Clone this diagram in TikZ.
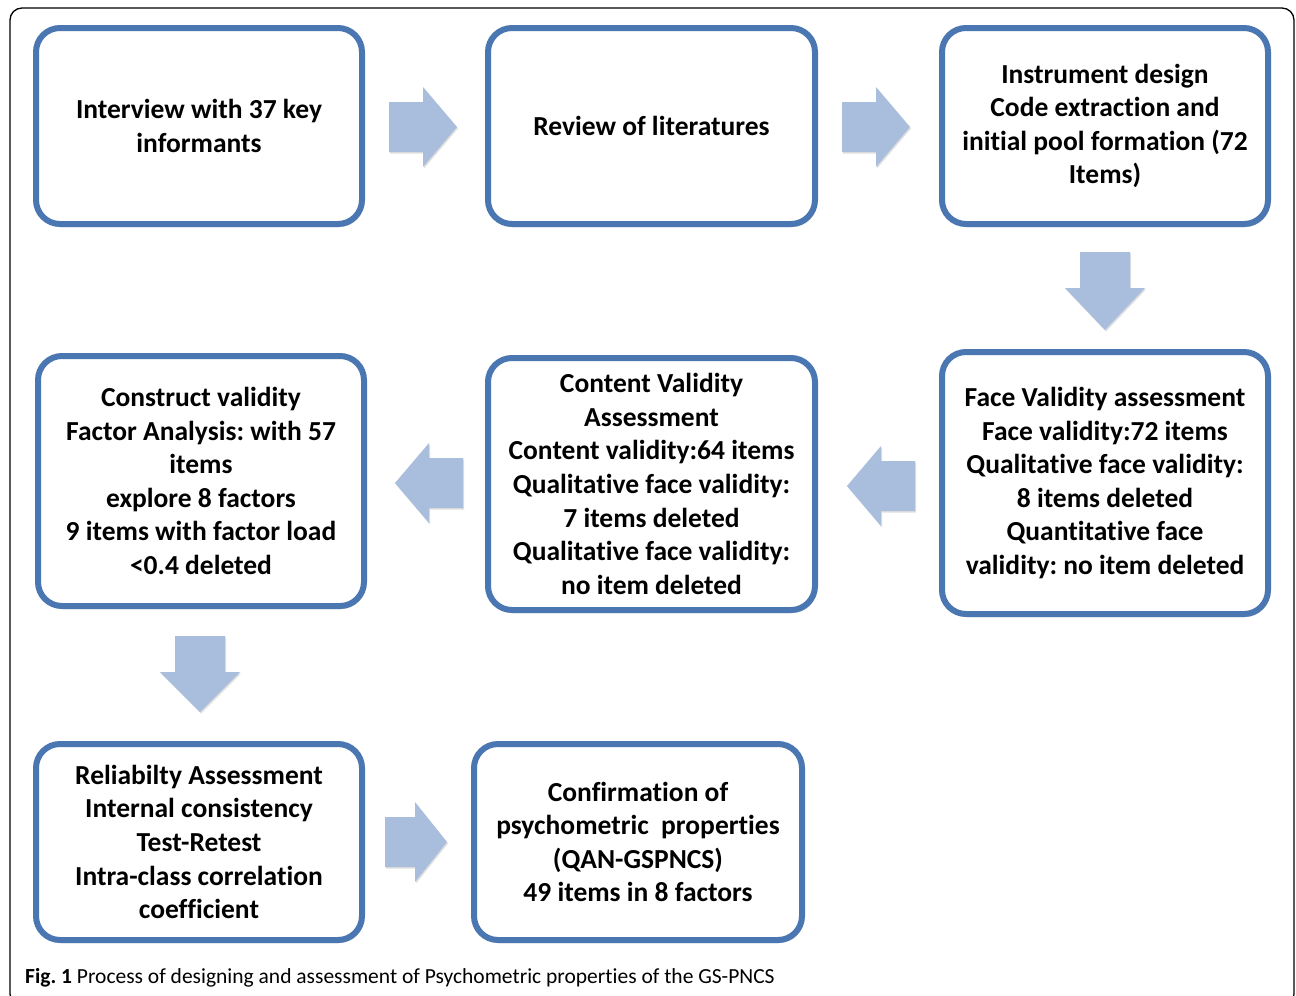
\documentclass[tikz,border=0pt]{standalone}
\usepackage{fontspec}
\setmainfont[Ligatures={NoCommon}]{Carlito}
\usetikzlibrary{shadows}
\definecolor{boxblue}{HTML}{4A77B2}
\definecolor{arrowc}{HTML}{A9BDDD}
\frenchspacing
\tikzset{
  stepbox/.style={draw=boxblue, line width=6pt, rounded corners=24pt, fill=white,
    align=center, inner sep=0pt, font=\fontsize{27.5}{33.6}\selectfont\bfseries,
    drop shadow={shadow xshift=1.5pt, shadow yshift=-3pt, opacity=0.35, fill=black!60}},
}
\newcommand\myarrow[5]{% x y angle length head
  \begin{scope}[shift={(#1,#2)}, rotate=#3]
    \fill[arrowc, drop shadow={shadow xshift=1pt, shadow yshift=-1.5pt, opacity=0.25}]
      (-#4/2,-25) -- (#4/2-#5,-25) -- (#4/2-#5,-40) -- (#4/2,0) -- (#4/2-#5,40) -- (#4/2-#5,25) -- (-#4/2,25) -- cycle;
  \end{scope}}
\begin{document}
\begin{tikzpicture}[x=1pt,y=-1pt]
\useasboundingbox (0,0) rectangle (1296,996);
\fill[white] (0,0) rectangle (1296,996);
\draw[line width=1.3pt, rounded corners=12pt] (10,8) rectangle (1294,1006);

\node[stepbox, minimum width=326, minimum height=196] (b1) at (199,126) {Interview with 37 key\\informants};
\node[stepbox, minimum width=327, minimum height=196] (b2) at (651.5,126) {Review of literatures};
\node[stepbox, minimum width=326, minimum height=196] (b3) at (1105,126) {Instrument design\\Code extraction and\\initial pool formation (72\\Items)};
\node[stepbox, minimum width=326, minimum height=262] (b4) at (1105,483) {Face Validity assessment\\Face validity:72 items\\Qualitative face validity:\\8 items deleted\\Quantitative face\\validity: no item deleted};
\node[stepbox, minimum width=327, minimum height=252] (b5) at (651.5,484) {Content Validity\\Assessment\\Content validity:64 items\\Qualitative face validity:\\7 items deleted\\Qualitative face validity:\\no item deleted};
\node[stepbox, minimum width=326, minimum height=250] (b6) at (201,481) {Construct validity\\Factor Analysis: with 57\\items\\explore 8 factors\\9 items with factor load\\<0.4 deleted};
\node[stepbox, minimum width=326, minimum height=196] (b7) at (199,842) {Reliabilty Assessment\\Internal consistency\\Test-Retest\\Intra-class correlation\\coefficient};
\node[stepbox, minimum width=328, minimum height=196] (b8) at (638,842) {Confirmation of\\psychometric\ \ properties\\(QAN-GSPNCS)\\49 items in 8 factors};

\myarrow{423}{127}{0}{68}{34}
\myarrow{876}{127}{0}{68}{34}
\myarrow{1105}{291}{-90}{78}{42}
\myarrow{881}{486}{180}{68}{34}
\myarrow{429}{483}{180}{68}{34}
\myarrow{200}{674}{-90}{76}{40}
\myarrow{416}{842}{0}{62}{32}

\node[anchor=base west, inner sep=0pt, font=\fontsize{21.5}{24}\selectfont] (cap) at (25,983)
  {\textbf{Fig. 1} Process of designing and assessment of Psychometric properties of the GS-PNCS};
\end{tikzpicture}
\end{document}
